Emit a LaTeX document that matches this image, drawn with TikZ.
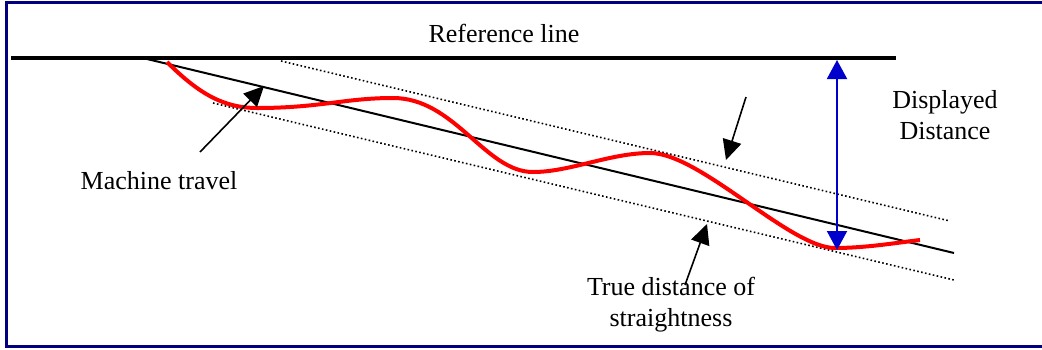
\documentclass[tikz,border=0pt]{standalone}
\usepackage{fontspec}
\setmainfont{Liberation Serif}
\usetikzlibrary{arrows.meta}
\definecolor{framenavy}{RGB}{0,0,128}
\definecolor{curvered}{RGB}{255,0,0}
\definecolor{arrowblue}{RGB}{0,0,205}
\tikzset{
  lbl/.style={font=\fontsize{26}{31}\selectfont, align=center, inner sep=0pt},
  pointer/.style={black, line width=1.6pt, -{Triangle[length=20pt,width=19pt]}},
  dotline/.style={black, line width=1.6pt, dash pattern=on 1.6pt off 2.4pt},
  travel/.style={curvered, line width=4pt},
  measure/.style={arrowblue, line width=2pt, {Triangle[length=19pt,width=20pt]}-{Triangle[length=19pt,width=20pt]}}
}
\begin{document}
\begin{tikzpicture}[x=1pt,y=-1pt]
\useasboundingbox (0,0) rectangle (1042,349);
\fill[white] (0,0) rectangle (1042,349);
\draw[framenavy, line width=3pt] (6,2) rectangle (1060,346.5);

% reference line
\coordinate (refL) at (11,58);
\coordinate (refR) at (896,58);
\draw[black, line width=4pt] (refL) -- (refR);
\node[lbl] (reftext) at (504,33) {Reference line};

% straightness lines
\coordinate (sA) at (147,59);
\coordinate (sB) at (954,253);
\draw[black, line width=2pt] (sA) -- (sB);
\coordinate (uA) at (281,61);
\coordinate (uB) at (950,221);
\draw[dotline] (uA) -- (uB);
\coordinate (lA) at (213,103);
\coordinate (lB) at (954,280);
\draw[dotline] (lA) -- (lB);

% machine travel curve
\draw[travel] (167,62) .. controls (200,95) and (225,108) .. (257,108)
  .. controls (320,108) and (345,98) .. (393,98)
  .. controls (455,98) and (485,172) .. (533,172)
  .. controls (570,172) and (610,153) .. (650,153)
  .. controls (700,153) and (790,248) .. (835,248)
  .. controls (865,248) and (895,243) .. (920,240);

% displayed distance
\coordinate (dTop) at (837,60);
\coordinate (dBot) at (837,250);
\draw[measure] (dTop) -- (dBot);
\node[lbl] (disptext) at (945,115) {Displayed\\Distance};

% labels and pointers
\node[lbl] (machtext) at (159,181) {Machine travel};
\coordinate (m1) at (200,152);
\coordinate (m2) at (264,86);
\draw[pointer] (m1) -- (m2);

\node[lbl] (truetext) at (671,305) {True distance of\\straightness};
\coordinate (t1) at (685,285);
\coordinate (t2) at (707,224);
\draw[pointer] (t1) -- (t2);

\coordinate (u1) at (746,97);
\coordinate (u2) at (726,160);
\draw[pointer] (u1) -- (u2);
\end{tikzpicture}
\end{document}
